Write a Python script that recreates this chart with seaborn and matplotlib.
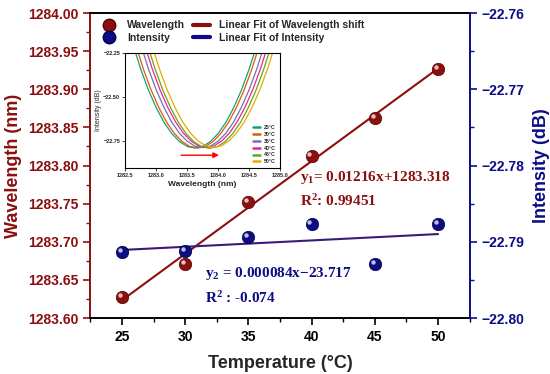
import pandas as pd
import seaborn as sns
import matplotlib.pyplot as plt
import matplotlib.transforms as mtransforms
from matplotlib.lines import Line2D
from matplotlib.ticker import MultipleLocator, FuncFormatter

# main data
temperature = [25, 30, 35, 40, 45, 50]
wavelength = [1283.628, 1283.671, 1283.752, 1283.812, 1283.862, 1283.927]
intensity = [-22.7913, -22.7912, -22.7894, -22.7877, -22.7929, -22.7877]

# inset: dip shape (offset from dip centre in nm, rise above the minimum in dB)
dip_offset = [-1.0, -0.875, -0.75, -0.625, -0.5, -0.375, -0.25, -0.125, 0.0,
              0.125, 0.25, 0.375, 0.5, 0.625, 0.75, 0.875, 1.0]
dip_rise = [0.59, 0.45, 0.33, 0.23, 0.147, 0.083, 0.037, 0.009, 0.0,
            0.009, 0.037, 0.083, 0.147, 0.23, 0.33, 0.45, 0.59]
temp_labels = ['25°C', '30°C', '35°C', '40°C', '45°C', '50°C']

red = '#8b0f0f'
navy = '#0c0c85'
fit_navy = '#3a1a78'

sns.set_style('ticks')
plt.rcParams['font.family'] = ['Liberation Sans', 'DejaVu Sans']
plt.rcParams['font.weight'] = 'bold'
plt.rcParams['mathtext.fontset'] = 'custom'
plt.rcParams['mathtext.rm'] = 'Liberation Serif:bold'
plt.rcParams['mathtext.bf'] = 'Liberation Serif:bold'
plt.rcParams['mathtext.default'] = 'bf'

def minus_fmt(v, p):
    return f'{v:.2f}'.replace('-', '\u2212')

df = pd.DataFrame({'T': temperature, 'wl': wavelength, 'inten': intensity})

fig = plt.figure(figsize=(5.5, 3.74), dpi=100)
ax = fig.add_axes([0.1636, 0.1497, 0.6909, 0.8155])
ax2 = ax.twinx()

# wavelength
sns.regplot(data=df, x='T', y='wl', ax=ax, scatter=False, ci=None, truncate=True,
            line_kws=dict(color=red, lw=1.5))
sns.scatterplot(data=df, x='T', y='wl', ax=ax, color=red, s=80, edgecolor='#5a0000',
                linewidth=0.5, zorder=3)
shine = mtransforms.offset_copy(ax.transData, fig=fig, x=-1.5, y=1.5, units='points')
sns.scatterplot(data=df, x='T', y='wl', ax=ax, color='white', s=10, alpha=0.75,
                linewidth=0, zorder=4, transform=shine)

# intensity
sns.regplot(data=df, x='T', y='inten', ax=ax2, scatter=False, ci=None, truncate=True,
            line_kws=dict(color=fit_navy, lw=1.5))
sns.scatterplot(data=df, x='T', y='inten', ax=ax2, color=navy, s=80, edgecolor='#00004a',
                linewidth=0.5, zorder=3)
shine2 = mtransforms.offset_copy(ax2.transData, fig=fig, x=-1.5, y=1.5, units='points')
sns.scatterplot(data=df, x='T', y='inten', ax=ax2, color='white', s=10, alpha=0.75,
                linewidth=0, zorder=4, transform=shine2)

ax.set_xlim(22.47, 52.53)
ax.set_ylim(1283.60, 1284.00)
ax2.set_ylim(-22.80, -22.76)

ax.xaxis.set_major_locator(MultipleLocator(5))
ax.xaxis.set_minor_locator(MultipleLocator(2.5))
ax.yaxis.set_major_locator(MultipleLocator(0.05))
ax.yaxis.set_minor_locator(MultipleLocator(0.025))
ax.yaxis.set_major_formatter(FuncFormatter(minus_fmt))
ax2.yaxis.set_major_locator(MultipleLocator(0.01))
ax2.yaxis.set_minor_locator(MultipleLocator(0.005))
ax2.yaxis.set_major_formatter(FuncFormatter(minus_fmt))

ax.tick_params(axis='x', which='major', direction='out', length=5, width=1.2, labelsize=10, colors='black')
ax.tick_params(axis='x', which='minor', direction='out', length=3, width=1.0, colors='black')
ax.tick_params(axis='y', which='major', direction='out', length=5, width=1.2, labelsize=10, colors=red)
ax.tick_params(axis='y', which='minor', direction='out', length=3, width=1.0, colors=red)
ax2.tick_params(axis='y', which='major', direction='out', length=5, width=1.2, labelsize=10, colors=navy)
ax2.tick_params(axis='y', which='minor', direction='out', length=3, width=1.0, colors=navy)

for s in ['bottom', 'top']:
    ax.spines[s].set_color('black')
    ax.spines[s].set_linewidth(1.4)
ax.spines['left'].set_color(red)
ax.spines['left'].set_linewidth(1.4)
ax.spines['right'].set_visible(False)
for s in ['left', 'top', 'bottom']:
    ax2.spines[s].set_visible(False)
ax2.spines['right'].set_color(navy)
ax2.spines['right'].set_linewidth(1.4)

ax.set_xlabel('Temperature (°C)', fontsize=13, fontweight='bold', labelpad=8)
ax.set_ylabel('Wavelength (nm)', fontsize=13, fontweight='bold', color=red, labelpad=4)
ax2.set_ylabel('Intensity (dB)', fontsize=13, fontweight='bold', color=navy, labelpad=6)

# fit equations
eq_kw = dict(transform=ax.transAxes, fontsize=11, fontweight='bold',
             family='Liberation Serif', va='center')
ax2.text(0.553, 0.462, r'y$_1$= 0.01216x+1283.318', color=red, **eq_kw)
ax2.text(0.553, 0.385, r'R$^2$: 0.99451', color=red, **eq_kw)
ax2.text(0.303, 0.145, r'y$_2$ = 0.000084x$-$23.717', color=navy, **eq_kw)
ax2.text(0.303, 0.066, r'R$^2$ : -0.074', color=navy, **eq_kw)

handles = [
    Line2D([], [], ls='none', marker='o', ms=9, color=red, mec='#5a0000'),
    Line2D([], [], ls='none', marker='o', ms=9, color=navy, mec='#00004a'),
    Line2D([], [], color=red, lw=3),
    Line2D([], [], color=navy, lw=3),
]
labels = ['Wavelength', 'Intensity', 'Linear Fit of Wavelength shift', 'Linear Fit of Intensity']
ax2.legend(handles, labels, ncol=2, loc='upper left', bbox_to_anchor=(0.01, 1.0), frameon=False,
           prop=dict(size=7.5, weight='bold'), handlelength=1.6, handletextpad=0.9,
           columnspacing=0.8, labelspacing=0.25, borderaxespad=0.3)

# inset spectra
rows = []
for lab, c, m in zip(temp_labels, wavelength, intensity):
    for o, r in zip(dip_offset, dip_rise):
        rows.append({'label': lab, 'x': c + o, 'y': m + r})
spec = pd.DataFrame(rows)

ax_in = fig.add_axes([0.2273, 0.5508, 0.2818, 0.3075])
ax_in.set_zorder(5)
ax_in.set_facecolor('white')
sns.lineplot(data=spec, x='x', y='y', hue='label', palette='Dark2', sort=False,
             estimator=None, lw=0.9, ax=ax_in)
ax_in.set_xlim(1282.5, 1285.0)
ax_in.set_ylim(-22.905, -22.25)
ax_in.xaxis.set_major_locator(MultipleLocator(0.5))
ax_in.xaxis.set_major_formatter(FuncFormatter(lambda v, p: f'{v:.1f}'))
ax_in.yaxis.set_major_locator(MultipleLocator(0.25))
ax_in.yaxis.set_major_formatter(FuncFormatter(minus_fmt))
ax_in.tick_params(labelsize=4, length=2, width=0.6, pad=1.5)
for s in ax_in.spines.values():
    s.set_linewidth(0.8)
    s.set_color('black')
ax_in.set_xlabel('Wavelength (nm)', fontsize=6, fontweight='bold', labelpad=2)
ax_in.set_ylabel('Intensity (dB)', fontsize=5, fontweight='normal', labelpad=1)
ax_in.annotate('', xy=(1284.06, -22.832), xytext=(1283.36, -22.832),
               arrowprops=dict(arrowstyle='-|>', color='red', lw=1.0, mutation_scale=8))
leg_in = ax_in.legend(loc='lower right', frameon=False, prop=dict(size=3.8, weight='bold'),
                      handlelength=1.4, labelspacing=0.35, borderaxespad=0.3)
for h in leg_in.get_lines():
    h.set_linewidth(1.8)

fig.savefig('out.png', dpi=100)
